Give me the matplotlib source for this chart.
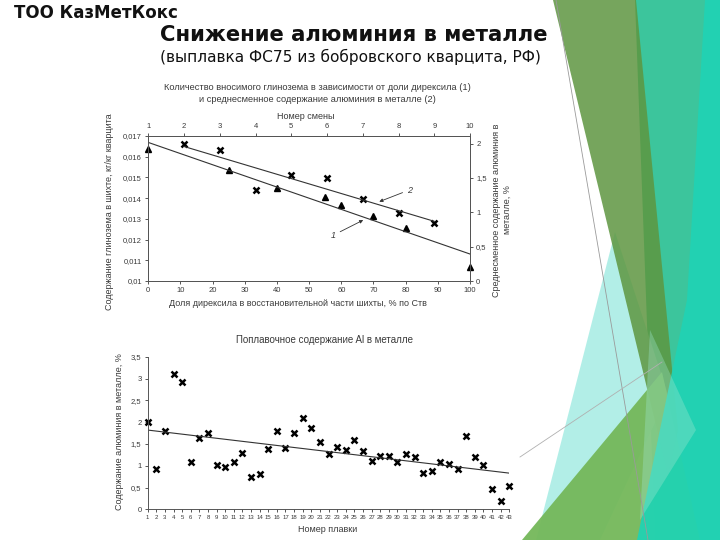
import matplotlib
matplotlib.use('Agg')
import matplotlib.pyplot as plt
from matplotlib.patches import Polygon
from matplotlib.ticker import FuncFormatter
import numpy as np

plt.rcParams['font.family'] = ['Liberation Sans', 'DejaVu Sans']

# top chart: alumina vs direxil share (1), mean Al per shift (2)
direxil_share = [0, 25, 40, 55, 60, 70, 80, 100]
alumina = [0.01636, 0.01537, 0.01447, 0.01407, 0.01367, 0.01315, 0.01257, 0.01069]
shift_no = [2, 3, 4, 5, 6, 7, 8, 9]
al_shift = [2.00, 1.905, 1.322, 1.541, 1.50, 1.20, 0.99, 0.845]

# bottom chart: Al per heat
heat_no = list(range(1, 44))
al_heat = [2.01, 0.93, 1.795, 3.10, 2.91, 1.08, 1.644, 1.742, 1.008, 0.962,
           1.076, 1.288, 0.75, 0.818, 1.379, 1.803, 1.417, 1.75, 2.098, 1.871,
           1.54, 1.261, 1.421, 1.368, 1.59, 1.337, 1.108, 1.223, 1.223, 1.093,
           1.261, 1.207, 0.825, 0.879, 1.077, 1.047, 0.932, 1.689, 1.207, 1.016,
           0.466, 0.183, 0.527]

W, H = 720, 540
txt = '#3a3a3a'
spine = '#555555'

def comma(v, pos=None):
    return '{:g}'.format(v).replace('.', ',')

fig = plt.figure(figsize=(7.2, 5.4), dpi=100)

# slide background with decoration (pixel coords)
bg = fig.add_axes([0, 0, 1, 1], zorder=0)
bg.set_xlim(0, W)
bg.set_ylim(H, 0)
bg.axis('off')

shapes = [
    ([(635, 0), (720, 0), (720, 540), (655, 540)], '#3cc59c', 1.0),
    ([(615, 232), (668, 395), (600, 540), (536, 540)], '#aeeee6', 0.95),
    ([(553, 0), (636, 0), (678, 430), (668, 475)], '#5e9640', 0.85),
    ([(522, 540), (662, 372), (700, 540)], '#74b85a', 0.95),
    ([(705, 0), (720, 0), (720, 540), (637, 540), (687, 300)], '#20d3b4', 0.93),
    ([(650, 330), (696, 430), (640, 520)], '#9fe6d0', 0.35),
]
for pts, col, a in shapes:
    bg.add_patch(Polygon(pts, closed=True, facecolor=col, edgecolor='none', alpha=a))
bg.plot([556, 648], [0, 540], color='#9a9a9a', lw=0.6)
bg.plot([520, 662], [457, 362], color='#b0b0b0', lw=0.6)

bg.text(14, 13, 'ТОО КазМетКокс', family='DejaVu Sans', fontsize=12, fontweight='bold',
        color='#111111', va='center', ha='left')
bg.text(160, 35, 'Снижение алюминия в металле', family='DejaVu Sans', fontsize=15.2,
        fontweight='bold', color='#111111', va='center', ha='left')
bg.text(160, 57, '(выплавка ФС75 из бобровского кварцита, РФ)', family='DejaVu Sans',
        fontsize=11.1, color='#111111', va='center', ha='left')

# ---- top chart ----
ax = fig.add_axes([148.3 / W, 1 - 281 / H, (470 - 148.3) / W, (281 - 136) / H], zorder=2)
ax.set_xlim(0, 100)
ax.set_ylim(0.01, 0.017)
ax.plot(direxil_share, alumina, linestyle='none', marker='^', markersize=4.5,
        color='black', clip_on=False)
k1, b1 = np.polyfit(direxil_share, alumina, 1)
xs = np.array([0, 100])
ax.plot(xs, k1 * xs + b1, color='#333333', lw=0.8)
ax.set_xticks(np.arange(0, 101, 10))
ax.set_yticks(np.arange(0.010, 0.0171, 0.001))
ax.yaxis.set_major_formatter(FuncFormatter(comma))

ax2 = ax.twinx()
ax2.set_ylim(0, 2.11)
ax2.set_yticks([0, 0.5, 1, 1.5, 2])
ax2.yaxis.set_major_formatter(FuncFormatter(comma))
ax3 = ax2.twiny()
ax3.set_xlim(1, 10)
ax3.set_xticks(range(1, 11))
ax3.plot(shift_no, al_shift, linestyle='none', marker='x', markersize=5, mew=1.8,
         color='black', clip_on=False)
k2, b2 = np.polyfit(shift_no, al_shift, 1)
xs2 = np.array([min(shift_no), max(shift_no)])
ax3.plot(xs2, k2 * xs2 + b2, color='#333333', lw=0.8)

for a in (ax, ax2, ax3):
    a.tick_params(labelsize=5.5, colors=txt, length=2.5, width=0.6, pad=2)
    for s in a.spines.values():
        s.set_color(spine)
        s.set_linewidth(0.7)
ax.set_facecolor('white')

ax.annotate('2', xy=(71.8, 0.01383), xytext=(80.3, 0.01439), fontsize=6.5, fontstyle='italic',
            color=txt, ha='left', va='center',
            arrowprops=dict(arrowstyle='-|>', color='#333333', lw=0.6, mutation_scale=5, shrinkA=1, shrinkB=0))
ax.annotate('1', xy=(66.8, 0.01294), xytext=(58.4, 0.01222), fontsize=6.5, fontstyle='italic',
            color=txt, ha='right', va='center',
            arrowprops=dict(arrowstyle='-|>', color='#333333', lw=0.6, mutation_scale=5, shrinkA=1, shrinkB=0))

bg.text(317, 88, 'Количество вносимого глинозема в зависимости от доли дирексила (1)',
        fontsize=6.7, color=txt, ha='center', va='center', zorder=3)
bg.text(317, 99.5, 'и среднесменное содержание алюминия в металле (2)',
        fontsize=6.7, color=txt, ha='center', va='center', zorder=3)
bg.text(306, 116.5, 'Номер смены', fontsize=6.5, color=txt, ha='center', va='center', zorder=3)
bg.text(298, 304, 'Доля дирексила в восстановительной части шихты, % по Ств',
        fontsize=6.5, color=txt, ha='center', va='center', zorder=3)
bg.text(110, 212, 'Содержание глинозема в шихте, кг/кг кварцита', fontsize=6.5,
        color=txt, rotation=90, ha='center', va='center', zorder=3)
bg.text(502, 210, 'Среднесменное содержание алюминия в\nметалле, %', fontsize=6.5,
        color=txt, rotation=90, ha='center', va='center', multialignment='center',
        linespacing=1.2, zorder=3)

# ---- bottom chart ----
bx = fig.add_axes([147.7 / W, 1 - 509.3 / H, (509.3 - 147.7) / W, (509.3 - 356.7) / H], zorder=2)
bx.set_xlim(1, 43)
bx.set_ylim(0, 3.5)
bx.plot(heat_no, al_heat, linestyle='none', marker='x', markersize=5, mew=1.8,
        color='black', clip_on=False)
k3, b3 = np.polyfit(heat_no, al_heat, 1)
xs3 = np.array([1, 43])
bx.plot(xs3, k3 * xs3 + b3, color='#333333', lw=0.8)
bx.set_xticks(heat_no)
bx.set_yticks(np.arange(0, 3.51, 0.5))
bx.yaxis.set_major_formatter(FuncFormatter(comma))
bx.tick_params(axis='x', labelsize=4.3, colors=txt, length=2, width=0.6, pad=2)
bx.tick_params(axis='y', labelsize=5.5, colors=txt, length=2.5, width=0.6, pad=2)
for side in ('top', 'right'):
    bx.spines[side].set_visible(False)
for side in ('left', 'bottom'):
    bx.spines[side].set_color(spine)
    bx.spines[side].set_linewidth(0.7)
bx.patch.set_alpha(0)

bg.text(325, 340, 'Поплавочное содержание Al в металле', fontsize=7, color=txt,
        ha='center', va='center', zorder=3)
bg.text(120, 432, 'Содержание алюминия в металле, %', fontsize=6.5, color=txt,
        rotation=90, ha='center', va='center', zorder=3)
bg.text(328, 530, 'Номер плавки', fontsize=6.5, color=txt, ha='center', va='center', zorder=3)

fig.savefig('out.png', dpi=100)
